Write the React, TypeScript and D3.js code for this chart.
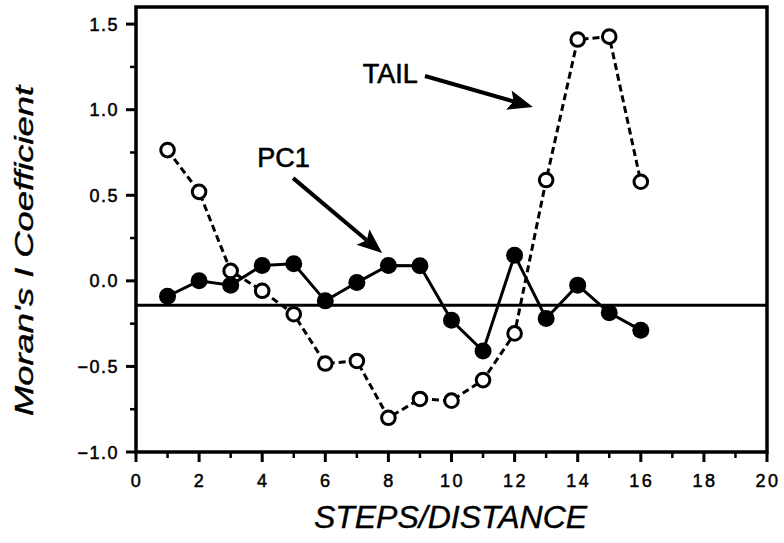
import React, { useEffect, useRef } from 'react';
import * as d3 from 'd3';

// Lag distances (steps)
const steps = [1, 2, 3, 4, 5, 6, 7, 8, 9, 10, 11, 12, 13, 14, 15, 16];
// Moran's I for PC1 (filled circles, solid line)
const pc1Values = [-0.09, 0.0, -0.025, 0.09, 0.1, -0.117, -0.01, 0.09, 0.088, -0.23, -0.41, 0.15, -0.22, -0.025, -0.187, -0.288];
// Moran's I for TAIL (open circles, dashed line)
const tailValues = [0.764, 0.52, 0.058, -0.058, -0.195, -0.483, -0.468, -0.8, -0.69, -0.7, -0.58, -0.307, 0.589, 1.41, 1.427, 0.579];
// Expected value under no autocorrelation
const expectedI = -0.143;

const xMajorTicks = [0, 2, 4, 6, 8, 10, 12, 14, 16, 18, 20];
const xMinorTicks = [1, 3, 5, 7, 9, 11, 13, 15, 17, 19];
const yMajorTicks = [-1.0, -0.5, 0.0, 0.5, 1.0, 1.5];
const yMinorTicks = [-0.75, -0.25, 0.25, 0.75, 1.25];

// annotation anchors in data units
const annotations = [
  { label: 'TAIL', textX: 7.19, textY: 1.156, from: [9.16, 1.197], to: [12.58, 1.016] },
  { label: 'PC1', textX: 3.84, textY: 0.665, from: [4.98, 0.6], to: [7.8, 0.162] },
];

const FONT = '"Liberation Sans", Arial, Helvetica, sans-serif';

const App = () => {
  const ref = useRef<SVGSVGElement | null>(null);

  useEffect(() => {
    const svg = d3.select(ref.current);
    svg.selectAll('*').remove();

    const left = 136;
    const right = 767;
    const top = 7;
    const bottom = 452;

    const x = d3.scaleLinear().domain([0, 20]).range([left, right]);
    const y = d3.scaleLinear().domain([-1.0, 1.6]).range([bottom, top]);

    // frame
    svg
      .append('rect')
      .attr('x', left)
      .attr('y', top)
      .attr('width', right - left)
      .attr('height', bottom - top)
      .attr('fill', 'none')
      .attr('stroke', '#000')
      .attr('stroke-width', 3.5);

    // y ticks
    const yAxis = svg.append('g');
    yAxis
      .selectAll('.ymaj')
      .data(yMajorTicks)
      .enter()
      .append('line')
      .attr('x1', left - 10)
      .attr('x2', left)
      .attr('y1', (d) => y(d))
      .attr('y2', (d) => y(d))
      .attr('stroke', '#000')
      .attr('stroke-width', 3);
    yAxis
      .selectAll('.ymin')
      .data(yMinorTicks)
      .enter()
      .append('line')
      .attr('x1', left - 6)
      .attr('x2', left)
      .attr('y1', (d) => y(d))
      .attr('y2', (d) => y(d))
      .attr('stroke', '#000')
      .attr('stroke-width', 2.5);
    yAxis
      .selectAll('text')
      .data(yMajorTicks)
      .enter()
      .append('text')
      .attr('x', left - 17)
      .attr('y', (d) => y(d) + 6.5)
      .attr('text-anchor', 'end')
      .attr('stroke', '#000')
      .attr('stroke-width', 0.5)
      .style('font-family', FONT)
      .style('font-size', '18px')
      .style('letter-spacing', '1.5px')
      .text((d) => d3.format('.1f')(d));

    // x ticks
    const xAxis = svg.append('g');
    xAxis
      .selectAll('.xmaj')
      .data(xMajorTicks)
      .enter()
      .append('line')
      .attr('x1', (d) => x(d))
      .attr('x2', (d) => x(d))
      .attr('y1', bottom)
      .attr('y2', bottom + 10)
      .attr('stroke', '#000')
      .attr('stroke-width', 3);
    xAxis
      .selectAll('.xmin')
      .data(xMinorTicks)
      .enter()
      .append('line')
      .attr('x1', (d) => x(d))
      .attr('x2', (d) => x(d))
      .attr('y1', bottom)
      .attr('y2', bottom + 6)
      .attr('stroke', '#000')
      .attr('stroke-width', 2.5);
    xAxis
      .selectAll('text')
      .data(xMajorTicks)
      .enter()
      .append('text')
      .attr('x', (d) => x(d) + 1)
      .attr('y', bottom + 35)
      .attr('text-anchor', 'middle')
      .attr('stroke', '#000')
      .attr('stroke-width', 0.5)
      .style('font-family', FONT)
      .style('font-size', '18px')
      .style('letter-spacing', '2.5px')
      .text((d) => d);

    // reference line
    svg
      .append('line')
      .attr('x1', left)
      .attr('x2', right)
      .attr('y1', y(expectedI))
      .attr('y2', y(expectedI))
      .attr('stroke', '#000')
      .attr('stroke-width', 3);

    const line = d3
      .line<number>()
      .x((_, i) => x(steps[i]))
      .y((d) => y(d));

    // TAIL series
    svg
      .append('path')
      .attr('d', line(tailValues))
      .attr('fill', 'none')
      .attr('stroke', '#000')
      .attr('stroke-width', 3)
      .attr('stroke-dasharray', '7,4');

    // PC1 series
    svg
      .append('path')
      .attr('d', line(pc1Values))
      .attr('fill', 'none')
      .attr('stroke', '#000')
      .attr('stroke-width', 3);

    svg
      .selectAll('.tail')
      .data(tailValues)
      .enter()
      .append('circle')
      .attr('cx', (_, i) => x(steps[i]))
      .attr('cy', (d) => y(d))
      .attr('r', 6.8)
      .attr('fill', '#fff')
      .attr('stroke', '#000')
      .attr('stroke-width', 3);

    svg
      .selectAll('.pc1')
      .data(pc1Values)
      .enter()
      .append('circle')
      .attr('cx', (_, i) => x(steps[i]))
      .attr('cy', (d) => y(d))
      .attr('r', 8.5)
      .attr('fill', '#000');

    // annotations
    annotations.forEach((a) => {
      const x1 = x(a.from[0]);
      const y1 = y(a.from[1]);
      const x2 = x(a.to[0]);
      const y2 = y(a.to[1]);
      const ang = Math.atan2(y2 - y1, x2 - x1);
      const len = 25;
      const hw = 10;
      const bx = x2 - len * Math.cos(ang);
      const by = y2 - len * Math.sin(ang);
      const nx = -Math.sin(ang);
      const ny = Math.cos(ang);
      const nbx = x2 - (len - 5) * Math.cos(ang);
      const nby = y2 - (len - 5) * Math.sin(ang);

      svg
        .append('line')
        .attr('x1', x1)
        .attr('y1', y1)
        .attr('x2', nbx)
        .attr('y2', nby)
        .attr('stroke', '#000')
        .attr('stroke-width', 4);

      svg
        .append('polygon')
        .attr(
          'points',
          [
            [x2, y2],
            [bx + nx * hw, by + ny * hw],
            [nbx, nby],
            [bx - nx * hw, by - ny * hw],
          ]
            .map((p) => p.join(','))
            .join(' ')
        )
        .attr('fill', '#000');

      svg
        .append('text')
        .attr('x', x(a.textX))
        .attr('y', y(a.textY))
        .attr('stroke', '#000')
        .attr('stroke-width', 0.6)
        .style('font-family', FONT)
        .style('font-size', '27px')
        .text(a.label);
    });

    // axis titles
    svg
      .append('text')
      .attr('x', (left + right) / 2 - 1)
      .attr('y', 528)
      .attr('text-anchor', 'middle')
      .attr('stroke', '#000')
      .attr('stroke-width', 0.4)
      .style('font-family', FONT)
      .style('font-size', '32px')
      .style('font-style', 'italic')
      .text('STEPS/DISTANCE');

    svg
      .append('text')
      .attr('transform', 'translate(33,251) rotate(-90)')
      .attr('text-anchor', 'middle')
      .attr('textLength', 330)
      .attr('lengthAdjust', 'spacingAndGlyphs')
      .attr('stroke', '#000')
      .attr('stroke-width', 0.4)
      .style('font-family', FONT)
      .style('font-size', '25px')
      .style('font-style', 'italic')
      .text("Moran's I Coefficient");
  }, []);

  return (
    <svg
      ref={ref}
      width={784}
      height={543}
      style={{ position: 'absolute', left: 0, top: 0, background: '#fff' }}
    />
  );
};

export default App;
